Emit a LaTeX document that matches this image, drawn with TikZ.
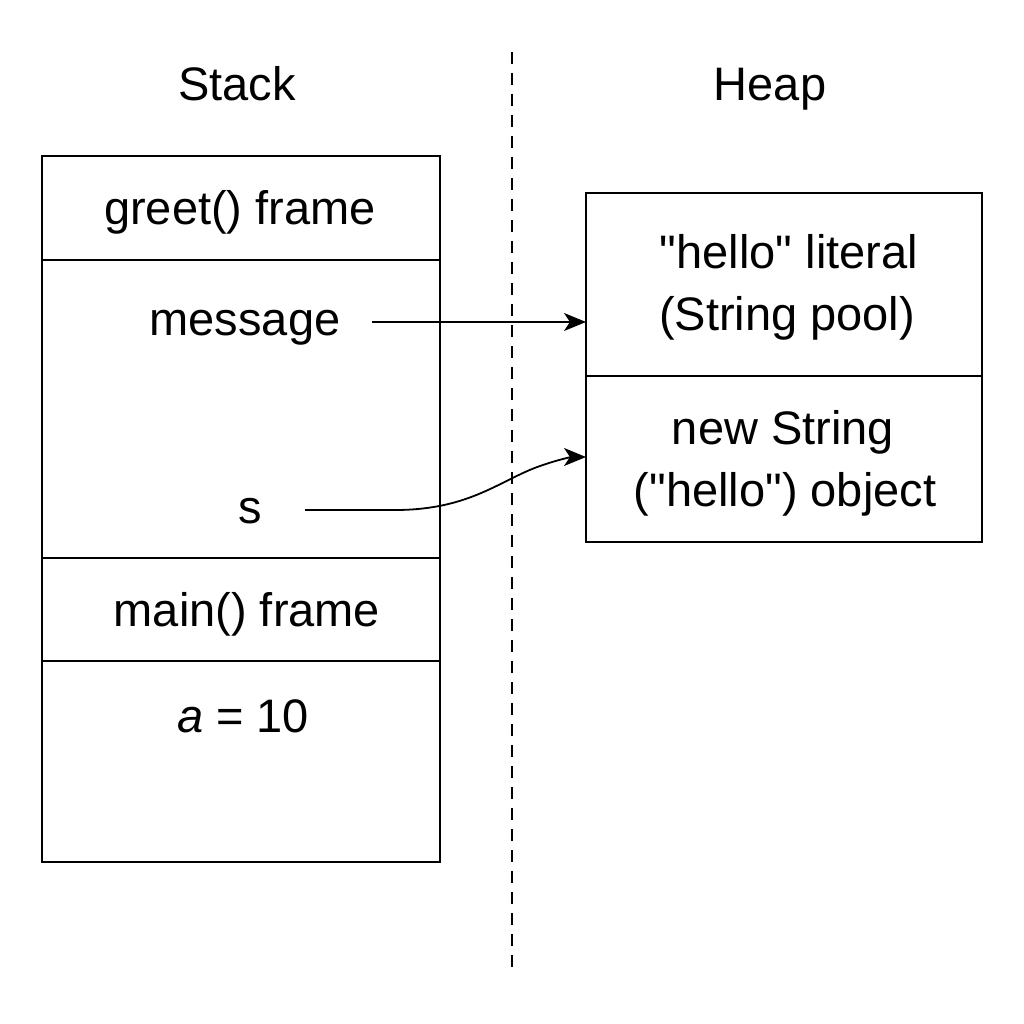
\documentclass[tikz,border=0pt]{standalone}
\usepackage{fontspec}
\setmainfont{Liberation Sans}[Ligatures=TeXOff]
\usetikzlibrary{arrows.meta}
\begin{document}
\begin{tikzpicture}[x=1pt,y=-1pt,
  box/.style={draw,line width=2pt},
  lbl/.style={font=\fontsize{47}{56}\selectfont,inner sep=0pt,anchor=base},
  ptr/.style={line width=1.8pt,-{Stealth[length=22pt,width=18pt,inset=6pt]}}]
\useasboundingbox (0,0) rectangle (1024,1024);
% dashed divider
\draw[line width=1.6pt,dash pattern=on 12pt off 9pt] (512,52) -- (512,970);
% titles
\node[lbl] (stacktitle) at (237,101) {Stack};
\node[lbl] (heaptitle) at (770,101) {Heap};
% stack box
\draw[box] (42,156) rectangle (440,862);
\draw[box] (42,260) -- (440,260);
\draw[box] (42,558) -- (440,558);
\draw[box] (42,661) -- (440,661);
\node[lbl] (greet) at (240,225) {greet() frame};
\node[lbl] (msg) at (245,335) {message};
\node[lbl] (s) at (250,523) {s};
\node[lbl] (main) at (247,626) {main() frame};
\node[lbl] (a) at (243,732) {\textit{a} = 10};
% heap box
\draw[box] (586,193) rectangle (982,542);
\draw[box] (586,376) -- (982,376);
\node[lbl] (lit1) at (789,268) {"hello" literal};
\node[lbl] (lit2) at (787,330) {(String pool)};
\node[lbl] (obj1) at (783,444) {new String};
\node[lbl] (obj2) at (785,506) {("hello") object};
\coordinate (msgend) at (372,322);
\coordinate (litin) at (586,322);
\coordinate (send) at (305,510);
\coordinate (objin) at (586,457);
\draw[ptr] (msgend) -- (litin);
\draw[ptr] (send) -- (395,510) .. controls (470,510) and (500,480) .. (540,466) .. controls (560,459) and (572,457) .. (objin);
\end{tikzpicture}
\end{document}
